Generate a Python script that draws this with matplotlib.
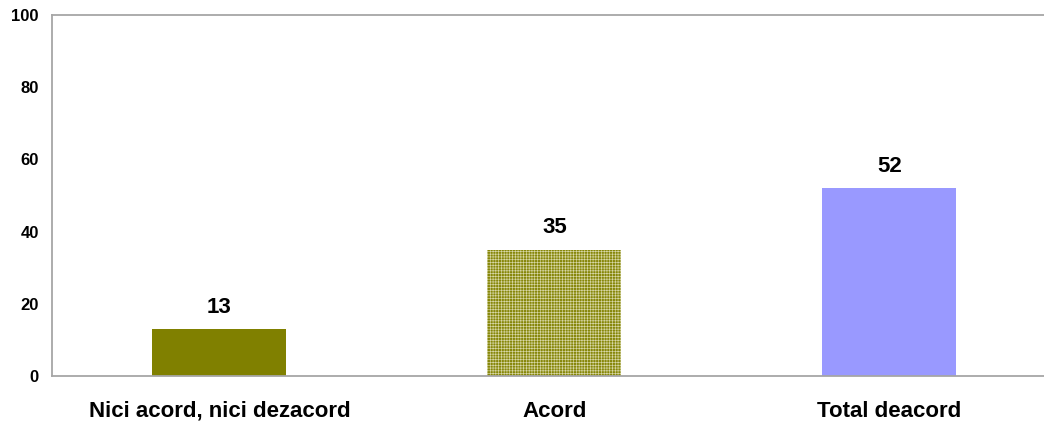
import matplotlib.pyplot as plt

plt.rcParams['font.family'] = ['Liberation Sans', 'DejaVu Sans']
plt.rcParams['font.weight'] = 'bold'
plt.rcParams['hatch.linewidth'] = 0.45

categories = ["Nici acord, nici dezacord", "Acord", "Total deacord"]
values = [13, 35, 52]
yticks = [0, 20, 40, 60, 80, 100]

AXIS_GREY = "#a6a6a6"

fig = plt.figure(figsize=(10.44, 4.25), dpi=100)
ax = fig.add_axes([0.0498, 0.1153, 0.9626, 0.8494])

x = list(range(len(categories)))
bars = ax.bar(x, values, width=0.4)

# plain olive, dotted olive, periwinkle
bars[0].set_facecolor("#808000")
bars[1].set_facecolor("#868608")
bars[1].set_hatch("++++++")
bars[1].set_edgecolor("#d8d8a8")
bars[1].set_linewidth(0)
bars[2].set_facecolor("#9999ff")

for xi, v in zip(x, values):
    ax.text(xi, v + 3.2, str(v), ha="center", va="bottom", fontsize=16, fontweight="bold")

ax.set_xlim(-0.5, 2.5)
ax.set_ylim(0, 100)
ax.set_yticks(yticks)
ax.set_xticks(x)
ax.set_xticklabels(categories, fontsize=16)
ax.tick_params(axis="x", length=0, pad=18)
ax.tick_params(axis="y", length=0, pad=9.5, labelsize=12)

for side in ["left", "bottom", "top"]:
    ax.spines[side].set_color(AXIS_GREY)
    ax.spines[side].set_linewidth(1.3)
ax.spines["right"].set_visible(False)

fig.savefig("out.png", dpi=100)
